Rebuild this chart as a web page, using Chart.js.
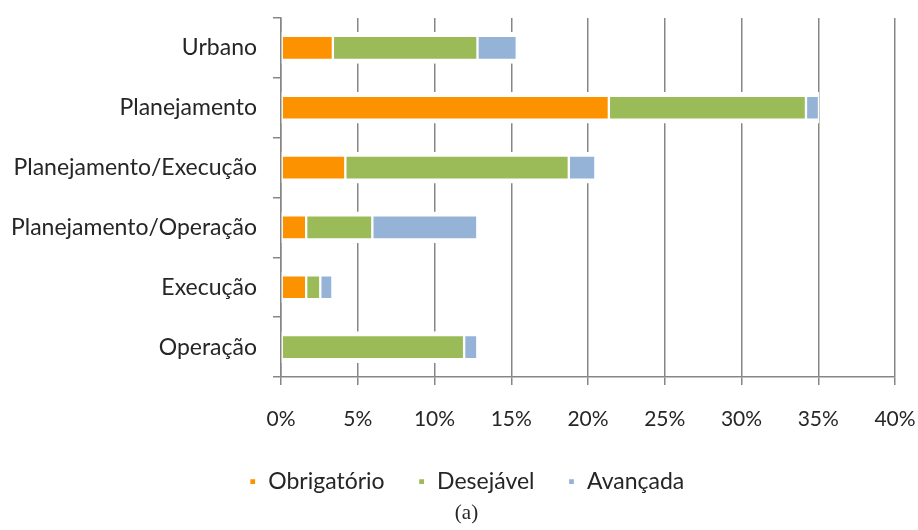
<!DOCTYPE html>
<html>
<head>
<meta charset="utf-8">
<script src="https://cdn.jsdelivr.net/npm/chart.js@4"></script>
<style>
    html, body { margin: 0; padding: 0; background: #fff; }
    #wrap { width: 918px; height: 530px; }
</style>
</head>
<body>
<div id="wrap"><canvas id="areaChart"></canvas></div>
<script>
// categorias e valores (%)
const categories = ['Urbano', 'Planejamento', 'Planejamento/Execução', 'Planejamento/Operação', 'Execução', 'Operação'];
const obrigatorio = [3.38, 21.36, 4.19, 1.64, 1.64, 0];
const desejavel = [9.42, 12.84, 14.56, 4.31, 0.92, 11.93];
const avancada = [2.56, 0.85, 1.73, 6.84, 0.79, 0.86];
const xTicks = [0, 5, 10, 15, 20, 25, 30, 35, 40];

const fontFamily = 'Lato, "Open Sans", sans-serif';
const gridGrey = '#868686';
const textColor = '#262626';

function makeSeries(label, data, color) {
    return {
        label: label,
        data: data,
        backgroundColor: color,
        borderColor: '#ffffff',
        borderWidth: { top: 5, bottom: 5, left: 1.5, right: 1.5 },
        borderSkipped: false,
        barThickness: 31
    };
}

document.addEventListener('DOMContentLoaded', function() {
    const ctx = document.getElementById('areaChart').getContext('2d');
    new Chart(ctx, {
        type: 'bar',
        data: {
            labels: categories,
            datasets: [
                makeSeries('Obrigatório', obrigatorio, '#fd9200'),
                makeSeries('Desejável', desejavel, '#9bbb59'),
                makeSeries('Avançada', avancada, '#95b3d7')
            ]
        },
        options: {
            indexAxis: 'y',
            responsive: true,
            maintainAspectRatio: false,
            animation: false,
            // right padding negative so the legend/title centre lands where the original has it
            layout: { padding: { top: 18, right: -15, left: 0, bottom: 0 } },
            scales: {
                x: {
                    stacked: true,
                    min: 0,
                    max: 40,
                    afterBuildTicks: function(scale) {
                        scale.ticks = xTicks.map(v => ({ value: v }));
                    },
                    afterFit: function(scale) {
                        scale.height = 60;
                        scale.paddingRight = 23;
                    },
                    ticks: {
                        color: textColor,
                        padding: 22,
                        font: { family: fontFamily, size: 21 },
                        callback: v => v + '%'
                    },
                    grid: { color: gridGrey, lineWidth: 1.5, tickLength: 8 },
                    border: { color: gridGrey, width: 1.5 }
                },
                y: {
                    stacked: true,
                    afterFit: function(scale) {
                        scale.width = 281;
                        scale.paddingTop = 0;
                        scale.paddingBottom = 0;
                    },
                    ticks: {
                        color: textColor,
                        padding: 16,
                        font: { family: fontFamily, size: 23 }
                    },
                    grid: { drawOnChartArea: false, color: gridGrey, lineWidth: 1.5, tickLength: 8, offset: true },
                    border: { color: gridGrey, width: 1.5 }
                }
            },
            plugins: {
                legend: {
                    position: 'bottom',
                    labels: {
                        color: textColor,
                        boxWidth: 8,
                        boxHeight: 8,
                        padding: 33,
                        font: { family: fontFamily, size: 23 }
                    }
                },
                title: {
                    display: true,
                    position: 'bottom',
                    text: '(a)',
                    color: textColor,
                    padding: { top: 0, bottom: 6 },
                    font: { family: '"Liberation Serif", serif', size: 21, weight: 'normal', lineHeight: 1 }
                },
                tooltip: { enabled: false }
            }
        }
    });
});
</script>
</body>
</html>
